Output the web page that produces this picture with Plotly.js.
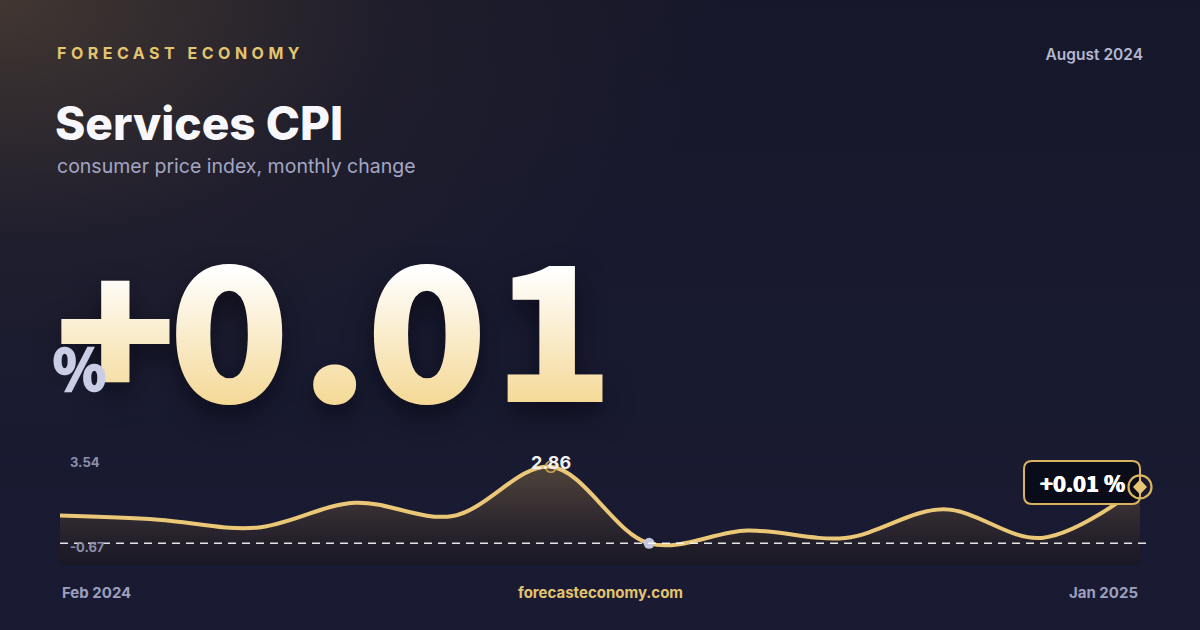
<!DOCTYPE html>
<html>
<head>
<meta charset="utf-8">
<script src="https://cdn.plot.ly/plotly-3.0.1.min.js"></script>
<style>
  html, body { margin:0; padding:0; }
  body {
    width:1200px; height:630px; overflow:hidden; position:relative;
    font-family: Inter, "Noto Sans", sans-serif;
    background:
      radial-gradient(ellipse 720px 430px at 0px 0px, rgba(84,68,52,0.70), rgba(58,48,46,0.25) 55%, rgba(0,0,0,0) 100%),
      linear-gradient(180deg, #16172a 0%, #181a30 60%, #1a1b33 100%);
  }
  #chart { position:absolute; left:0; top:0; width:1200px; height:630px; }
  #hero { position:absolute; left:0; top:0; overflow:visible; }
  .t { position:absolute; white-space:nowrap; line-height:1; }
  #brand { left:57px; top:45px; font-size:16px; font-weight:700; letter-spacing:4.5px; color:#e3c46f; }
  #date { right:57px; top:47px; font-size:15.5px; font-weight:600; color:#b4b7cf; }
  #title { left:55px; top:100px; font-size:46px; font-weight:800; color:#f8f8fc; letter-spacing:0px; }
  #sub { left:57px; top:157px; font-size:19.5px; font-weight:400; color:#a3a6c4; }
</style>
</head>
<body>
<div id="chart"></div>
<div class="t" id="brand">FORECAST ECONOMY</div>
<div class="t" id="date">August 2024</div>
<div class="t" id="title">Services CPI</div>
<div class="t" id="sub">consumer price index, monthly change</div>
<svg id="hero" width="1200" height="630" xmlns="http://www.w3.org/2000/svg">
  <defs>
    <linearGradient id="goldgrad" gradientUnits="userSpaceOnUse" x1="0" y1="262" x2="0" y2="407">
      <stop offset="0.05" stop-color="#ffffff"/>
      <stop offset="1" stop-color="#f4d894"/>
    </linearGradient>
  </defs>
  <g style="filter: drop-shadow(0px 12px 14px rgba(5,5,15,0.6));">
    <text id="big" x="57" y="399" dx="0 -2.7 13.5 1.5 8.5" transform="matrix(1.1,0,0,1,-5.7,0)"
      font-family="Noto Sans CJK SC, sans-serif" font-weight="700" font-size="180"
      fill="url(#goldgrad)" stroke="url(#goldgrad)" stroke-width="6" stroke-linejoin="miter"></text>
  </g>
  <text id="pct" x="53" y="390" font-family="Noto Sans CJK SC, sans-serif" font-weight="700" font-size="55"
    fill="#c9cde6" stroke="#c9cde6" stroke-width="2.4" stroke-linejoin="miter">%</text>
</svg>
<script>
// ---- data ----
const MONTHS = ['Feb 2024','Mar 2024','Apr 2024','May 2024','Jun 2024','Jul 2024',
                'Aug 2024','Sep 2024','Oct 2024','Nov 2024','Dec 2024','Jan 2025'];
const VALUES = [0.61, 0.42, 0.05, 1.20, 0.59, 2.86, -0.67, -0.08, -0.42, 0.90, -0.42, 1.93];
const Y_MAX = 3.54;
const Y_MIN = -1.67;
const HEADLINE = '+0.01';
const BADGE_TEXT = '+0.01 %';
const SITE = 'forecasteconomy.com';

document.getElementById('big').textContent = HEADLINE;

const peakI = VALUES.indexOf(Math.max(...VALUES));
const minI = VALUES.indexOf(Math.min(...VALUES));
const lastI = VALUES.length - 1;
const LAST_X_FRAC = lastI / (MONTHS.length - 1);
const GOLD = '#ebc877';
const FONT = 'Inter, "Noto Sans", sans-serif';
const FONT_HEAVY = '"Noto Sans CJK SC", sans-serif';

const traces = [
  { x: MONTHS, y: MONTHS.map(() => Y_MIN), mode: 'lines', line: {width: 0, color: 'rgba(0,0,0,0)'},
    hoverinfo: 'skip', showlegend: false },
  { x: MONTHS, y: VALUES, mode: 'lines', fill: 'tonexty',
    line: {color: GOLD, width: 4, shape: 'spline', smoothing: 1},
    fillgradient: {type: 'vertical', start: Y_MIN, stop: Math.max(...VALUES),
      colorscale: [[0, '#191826'], [0.35, '#29242d'], [1, '#4f433a']]},
    hoverinfo: 'skip', showlegend: false },
  { x: [MONTHS[minI]], y: [VALUES[minI]], mode: 'markers',
    marker: {size: 11, color: '#c3c6dc'}, hoverinfo: 'skip', showlegend: false, cliponaxis: false },
  { x: [MONTHS[peakI]], y: [VALUES[peakI]], mode: 'markers',
    marker: {size: 11, symbol: 'circle-open', color: '#c9a04c', line: {width: 1.6, color: '#c9a04c'}},
    hoverinfo: 'skip', showlegend: false, cliponaxis: false }
];

const shapes = [
  { type: 'line', xref: 'paper', x0: 0, x1: 1.006, yref: 'y', y0: VALUES[minI], y1: VALUES[minI],
    line: {color: 'rgba(255,255,255,0.88)', width: 1.5, dash: '8px,6px'}, layer: 'above' },
  { type: 'path', xref: 'paper', yref: 'y', xsizemode: 'pixel', ysizemode: 'pixel',
    xanchor: LAST_X_FRAC, yanchor: VALUES[lastI],
    path: 'M -108,26 L -8,26 Q 0,26 0,18 L 0,-9 Q 0,-17 -8,-17 L -108,-17 Q -116,-17 -116,-9 L -116,18 Q -116,26 -108,26 Z',
    fillcolor: '#0b0c1a', line: {color: '#d7b25f', width: 2}, layer: 'above' },
  { type: 'circle', xref: 'paper', yref: 'y', xsizemode: 'pixel', ysizemode: 'pixel',
    xanchor: LAST_X_FRAC, yanchor: VALUES[lastI], x0: -11.5, x1: 11.5, y0: -11.5, y1: 11.5,
    line: {color: '#d9b560', width: 2.2}, fillcolor: 'rgba(0,0,0,0)', layer: 'above' },
  { type: 'path', xref: 'paper', yref: 'y', xsizemode: 'pixel', ysizemode: 'pixel',
    xanchor: LAST_X_FRAC, yanchor: VALUES[lastI],
    path: 'M 0,7.5 L 7,0 L 0,-7.5 L -7,0 Z',
    fillcolor: '#e8c476', line: {width: 0}, layer: 'above' }
];

const annotations = [
  { x: MONTHS[peakI], y: VALUES[peakI], xref: 'x', yref: 'y', yshift: 4, showarrow: false,
    text: VALUES[peakI].toFixed(2), font: {family: FONT, size: 18, color: '#f2f0ee', weight: 700} },
  { x: MONTHS[lastI], y: VALUES[lastI], xref: 'x', yref: 'y', xshift: -58, yshift: 5, showarrow: false,
    text: BADGE_TEXT, font: {family: FONT_HEAVY, size: 22, color: '#ffffff', weight: 700,
    shadow: '0.5px 0 0 #ffffff, -0.5px 0 0 #ffffff'} },
  { x: 0, xref: 'paper', xanchor: 'left', xshift: 8, y: Y_MAX, yref: 'y', yshift: -10, showarrow: false,
    text: Y_MAX.toFixed(2), font: {family: FONT, size: 13, color: '#8c90ad', weight: 700} },
  { x: 0, xref: 'paper', xanchor: 'left', xshift: 8, y: VALUES[minI], yref: 'y', yshift: -4, showarrow: false,
    text: VALUES[minI].toFixed(2), font: {family: FONT, size: 13, color: '#8c90ad', weight: 700} },
  { x: MONTHS[0], xref: 'x', xanchor: 'left', xshift: 0, y: 0, yref: 'paper', yanchor: 'middle', yshift: -27,
    showarrow: false, text: MONTHS[0], font: {family: FONT, size: 15, color: '#9ca0be', weight: 700} },
  { x: MONTHS[lastI], xref: 'x', xanchor: 'right', xshift: 0, y: 0, yref: 'paper', yanchor: 'middle', yshift: -27,
    showarrow: false, text: MONTHS[lastI], font: {family: FONT, size: 15, color: '#9ca0be', weight: 700} },
  { x: 0.5, xref: 'paper', y: 0, yref: 'paper', yanchor: 'middle', yshift: -27, showarrow: false,
    text: SITE, font: {family: FONT, size: 15, color: '#e3c46f', weight: 700} }
];

const layout = {
  width: 1200, height: 630,
  margin: {l: 60, r: 60, t: 452, b: 65, pad: 0},
  paper_bgcolor: 'rgba(0,0,0,0)', plot_bgcolor: 'rgba(0,0,0,0)',
  xaxis: {type: 'category', range: [0, MONTHS.length - 1], visible: false, fixedrange: true},
  yaxis: {range: [Y_MIN, Y_MAX], visible: false, fixedrange: true},
  showlegend: false, shapes: shapes, annotations: annotations,
  font: {family: FONT}
};

Plotly.newPlot('chart', traces, layout, {displayModeBar: false, staticPlot: true});
</script>
</body>
</html>
